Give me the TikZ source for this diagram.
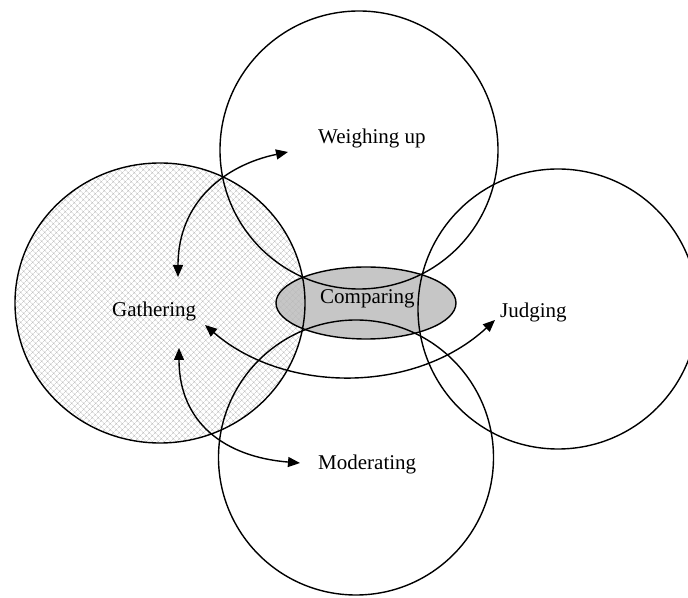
\documentclass[tikz,border=0pt]{standalone}
\usepackage{fontspec}
\setmainfont{Liberation Serif}
\usetikzlibrary{arrows.meta,patterns.meta}
\begin{document}
\begin{tikzpicture}[x=1pt,y=1pt,
  ring/.style={line width=1.4pt},
  tip/.tip={Triangle[length=12pt,width=10pt]},
  link/.style={line width=1.4pt,tip-tip},
  word/.style={font=\fontsize{21}{25}\selectfont, anchor=base west, inner sep=0pt}]
\clip (0,0) rectangle (688,597);
\fill[white] (0,0) rectangle (688,597);

% shaded centre and hatched Gathering area
\fill[gray!45] (366,294) ellipse [x radius=90, y radius=36];
\fill[pattern={Hatch[angle=45,distance=4pt,line width=0.45pt]}, pattern color=gray!55]
  (160,294) ellipse [x radius=145, y radius=140];

% the four circles and the central ellipse
\draw[ring] (359,447) circle [radius=139];
\draw[ring] (160,294) ellipse [x radius=145, y radius=140];
\draw[ring] (558,288) circle [radius=140];
\draw[ring] (356,139.5) circle [radius=137.5];
\draw[ring] (366,294) ellipse [x radius=90, y radius=36];

% labels
\node[word] (weigh) at (318,453) {Weighing up};
\node[word] (gather) at (112,280) {Gathering};
\node[word] (compare) at (320,293) {Comparing};
\node[word] (judge) at (500,279) {Judging};
\node[word] (moderate) at (318,127) {Moderating};

% arrow end points
\coordinate (g1) at (178,320);
\coordinate (w1) at (288,445);
\coordinate (g2) at (179,249);
\coordinate (m1) at (300,134);
\coordinate (g3) at (205,272);
\coordinate (j1) at (495,277);

\draw[link] (g1) .. controls (178,395) and (225,432) .. (w1);
\draw[link] (g2) .. controls (179,174) and (225,140) .. (m1);
\draw[link] (g3) .. controls (285,203) and (415,203) .. (j1);
\end{tikzpicture}
\end{document}
